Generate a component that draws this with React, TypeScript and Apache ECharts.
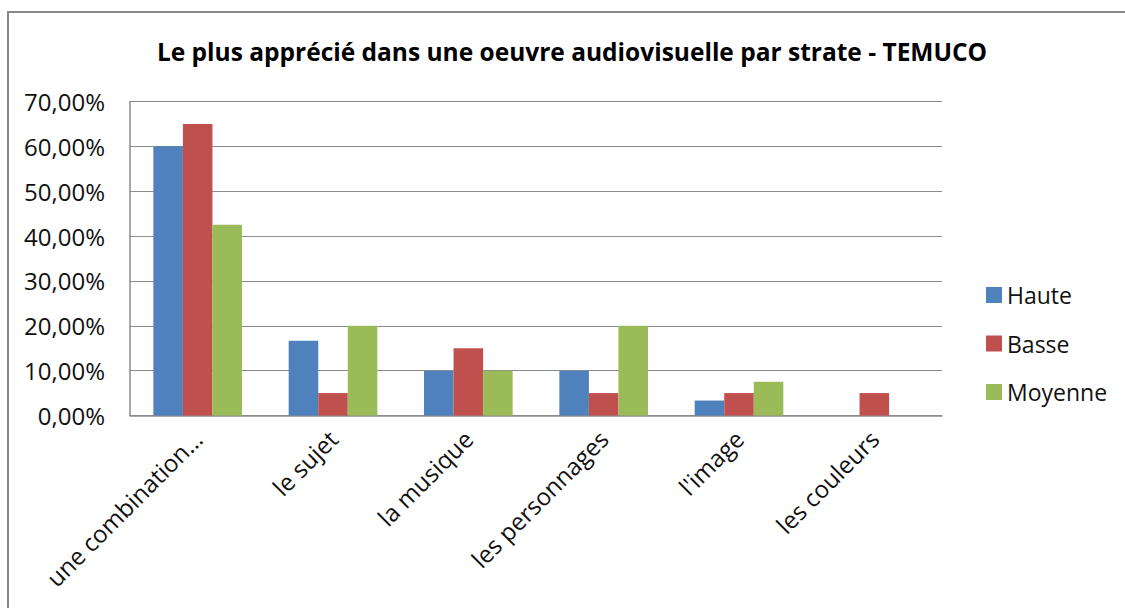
import React, { useEffect, useRef } from "react";
import * as echarts from "echarts";

const categories = [
  "une combination…",
  "le sujet",
  "la musique",
  "les personnages",
  "l'image",
  "les couleurs",
];
const seriesNames = ["Haute", "Basse", "Moyenne"];
const haute = [60, 16.67, 10, 10, 3.33, 0];
const basse = [65, 5, 15, 5, 5, 5];
const moyenne = [42.5, 20, 10, 20, 7.5, 0];
const colors = ["#4F81BD", "#C0504D", "#9BBB59"];
const titleText = "Le plus apprécié dans une oeuvre audiovisuelle par strate - TEMUCO";

const FONT = "Open Sans";

export default function App() {
  const ref = useRef<HTMLDivElement>(null);
  useEffect(() => {
    if (!ref.current) return;
    const chart = echarts.init(ref.current, null, { renderer: "svg" });
    const data = [haute, basse, moyenne];
    chart.setOption({
      animation: false,
      backgroundColor: "#ffffff",
      textStyle: { fontFamily: FONT, color: "#111" },
      title: {
        text: titleText,
        left: 567,
        textAlign: "center",
        top: 34,
        textStyle: { fontFamily: FONT, fontSize: 24.5, fontWeight: "bold", color: "#000" },
      },
      graphic: [
        {
          type: "rect",
          shape: { x: 8, y: 12, width: 1130, height: 620 },
          style: { fill: "none", stroke: "#888888", lineWidth: 2 },
          silent: true,
        },
      ],
      legend: {
        orient: "vertical",
        left: 981,
        top: 278,
        itemWidth: 16,
        itemHeight: 16,
        itemGap: 24.5,
        icon: "rect",
        data: seriesNames,
        textStyle: { fontFamily: FONT, fontSize: 23, color: "#111", lineHeight: 24, padding: [0, 0, 0, 0] },
      },
      grid: { left: 130, right: 183, top: 101.5, bottom: 192.5 },
      xAxis: {
        type: "category",
        data: categories,
        axisLine: { show: true, lineStyle: { color: "#8c8c8c", width: 1.5 } },
        axisTick: { show: false },
        axisLabel: {
          rotate: 45,
          interval: 0,
          margin: 19,
          fontFamily: FONT,
          fontSize: 24,
          color: "#111",
        },
      },
      yAxis: {
        type: "value",
        min: 0,
        max: 70,
        interval: 10,
        axisLine: { show: true, lineStyle: { color: "#8c8c8c", width: 1.5 } },
        axisTick: { show: false },
        splitLine: { show: true, lineStyle: { color: "#8c8c8c", width: 1.2 } },
        axisLabel: {
          margin: 25,
          fontFamily: FONT,
          fontSize: 24,
          color: "#111",
          formatter: (v: number) => v.toFixed(2).replace(".", ",") + "%",
        },
      },
      series: seriesNames.map((name, i) => ({
        name,
        type: "bar",
        data: data[i],
        itemStyle: { color: colors[i] },
        barGap: "0%",
        barCategoryGap: "34.5%",
      })),
    });
    return () => chart.dispose();
  }, []);
  return (
    <div
      ref={ref}
      style={{ position: "absolute", left: 0, top: 0, width: 1125, height: 608 }}
    />
  );
}
